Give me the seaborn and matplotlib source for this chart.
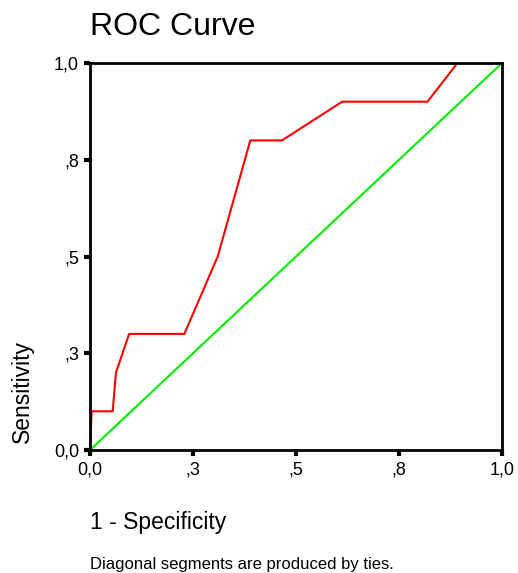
import matplotlib
matplotlib.use("Agg")
import matplotlib.pyplot as plt
import seaborn as sns
import pandas as pd

# ROC coordinates
fpr = [0.0, 0.004, 0.055, 0.063, 0.095, 0.229, 0.31, 0.389, 0.466, 0.612, 0.819, 0.892, 1.0]
tpr = [0.0, 0.1, 0.1, 0.2, 0.3, 0.3, 0.5, 0.8, 0.8, 0.9, 0.9, 1.0, 1.0]
ref_x = [0.0, 1.0]
ref_y = [0.0, 1.0]

tick_vals = [0.0, 0.25, 0.5, 0.75, 1.0]
tick_labels = ["0,0", ",3", ",5", ",8", "1,0"]

sns.set_style("white")
plt.rcParams["font.family"] = ["Liberation Sans", "DejaVu Sans"]
plt.rcParams["text.color"] = "black"
plt.rcParams["xtick.color"] = "black"
plt.rcParams["ytick.color"] = "black"

fig = plt.figure(figsize=(5.18, 5.73), dpi=100)
ax = fig.add_axes([90 / 518, 1 - 450 / 573, 412 / 518, 387 / 573])

roc_df = pd.DataFrame({"x": fpr, "y": tpr})
ref_df = pd.DataFrame({"x": ref_x, "y": ref_y})

sns.lineplot(data=ref_df, x="x", y="y", sort=False, color="#00ee00", linewidth=1.5, ax=ax)
sns.lineplot(data=roc_df, x="x", y="y", sort=False, color="#ff0000", linewidth=1.5, ax=ax)

ax.set_xlim(0, 1)
ax.set_ylim(0, 1)
ax.set_xticks(tick_vals)
ax.set_xticklabels(tick_labels)
ax.set_yticks(tick_vals)
ax.set_yticklabels(tick_labels)
ax.tick_params(axis="both", length=4, width=3, color="black", labelcolor="black",
               labelsize=13, direction="out", pad=4, bottom=True, left=True)
ax.set_xlabel("")
ax.set_ylabel("")
for s in ax.spines.values():
    s.set_color("black")
    s.set_linewidth(2)

fig.text(90 / 518, 1 - 27 / 573, "ROC Curve", fontsize=23, ha="left", va="center")
fig.text(22 / 518, 1 - 443 / 573, "Sensitivity", fontsize=16.5, rotation=90,
         ha="center", va="bottom")
fig.text(90 / 518, 1 - 522 / 573, "1 - Specificity", fontsize=16.5, ha="left", va="center")
fig.text(90 / 518, 1 - 565 / 573, "Diagonal segments are produced by ties.", fontsize=12,
         ha="left", va="center")

fig.savefig("out.png", dpi=100)
